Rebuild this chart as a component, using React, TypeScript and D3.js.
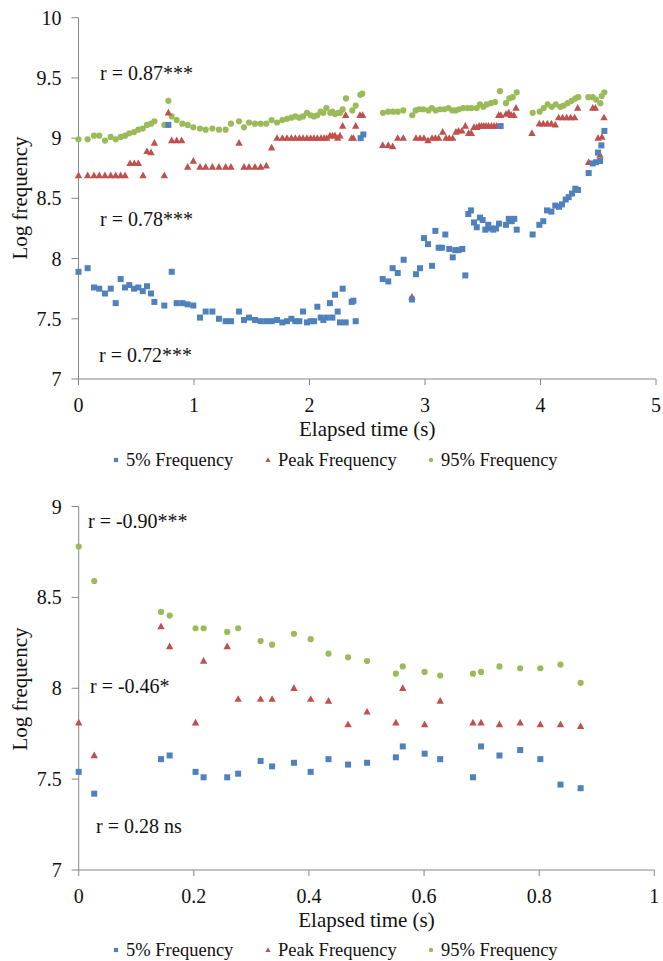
import * as d3 from "d3";

// top panel: [elapsed time (s), log frequency]
const p5Top: [number, number][] = [
  [0.0, 7.89], [0.079, 7.92], [0.134, 7.76], [0.18, 7.75], [0.229, 7.71], [0.279, 7.75], [0.322, 7.63],
  [0.365, 7.83], [0.403, 7.76], [0.44, 7.78], [0.481, 7.75], [0.518, 7.76], [0.556, 7.73], [0.593, 7.77],
  [0.628, 7.71], [0.657, 7.64], [0.743, 7.61], [0.778, 9.11], [0.807, 7.89], [0.85, 7.63], [0.899, 7.63],
  [0.945, 7.62], [0.994, 7.61], [1.052, 7.51], [1.101, 7.56], [1.159, 7.56], [1.216, 7.5], [1.274, 7.48],
  [1.32, 7.48], [1.39, 7.56], [1.433, 7.49], [1.476, 7.51], [1.528, 7.49], [1.577, 7.48], [1.626, 7.48],
  [1.672, 7.48], [1.719, 7.49], [1.765, 7.47], [1.805, 7.48], [1.843, 7.5], [1.877, 7.48], [1.912, 7.48],
  [1.944, 7.56], [1.978, 7.47], [2.01, 7.48], [2.039, 7.48], [2.068, 7.6], [2.097, 7.51], [2.12, 7.49],
  [2.149, 7.51], [2.177, 7.63], [2.198, 7.51], [2.221, 7.7], [2.244, 7.56], [2.264, 7.47], [2.287, 7.75],
  [2.313, 7.47], [2.365, 7.64], [2.38, 7.65], [2.4, 7.48], [2.443, 9.0], [2.466, 9.03], [2.634, 7.83],
  [2.682, 7.81], [2.72, 7.92], [2.764, 7.88], [2.815, 7.99], [2.887, 7.66], [2.922, 7.87], [2.957, 7.92],
  [2.991, 8.17], [3.026, 8.12], [3.061, 7.94], [3.09, 8.23], [3.118, 8.09], [3.147, 8.09], [3.176, 8.2],
  [3.21, 8.08], [3.24, 8.01], [3.262, 8.07], [3.291, 8.07], [3.323, 8.08], [3.349, 7.86], [3.375, 8.37],
  [3.398, 8.4], [3.424, 8.3], [3.448, 8.26], [3.476, 8.34], [3.499, 8.32], [3.522, 8.24], [3.548, 8.28],
  [3.571, 8.25], [3.591, 8.24], [3.615, 8.25], [3.641, 8.29], [3.655, 9.1], [3.701, 8.28], [3.725, 8.33],
  [3.751, 8.31], [3.773, 8.33], [3.794, 8.24], [3.932, 8.2], [3.99, 8.28], [4.024, 8.31], [4.056, 8.4],
  [4.094, 8.39], [4.128, 8.44], [4.16, 8.43], [4.186, 8.45], [4.218, 8.49], [4.244, 8.51], [4.273, 8.54],
  [4.301, 8.58], [4.325, 8.57], [4.417, 8.71], [4.452, 8.79], [4.481, 8.8], [4.498, 8.88], [4.515, 8.81],
  [4.527, 8.94], [4.553, 9.06],
];

const peakTop: [number, number][] = [
  [0.0, 8.69], [0.079, 8.69], [0.134, 8.69], [0.18, 8.69], [0.229, 8.69], [0.279, 8.69], [0.322, 8.69],
  [0.365, 8.69], [0.403, 8.69], [0.446, 8.79], [0.483, 8.79], [0.518, 8.79], [0.559, 8.69], [0.593, 8.89],
  [0.628, 8.88], [0.657, 8.96], [0.743, 8.69], [0.778, 9.21], [0.807, 8.98], [0.85, 8.98], [0.893, 8.98],
  [0.945, 8.76], [0.994, 8.81], [1.052, 8.76], [1.101, 8.76], [1.159, 8.76], [1.216, 8.76], [1.274, 8.76],
  [1.32, 8.76], [1.39, 8.96], [1.433, 8.76], [1.476, 8.76], [1.528, 8.76], [1.577, 8.76], [1.626, 8.77],
  [1.672, 8.92], [1.719, 9.0], [1.765, 9.0], [1.805, 9.0], [1.843, 9.0], [1.877, 9.0], [1.912, 9.0],
  [1.944, 9.0], [1.978, 9.0], [2.01, 9.0], [2.039, 9.0], [2.068, 9.0], [2.1, 9.0], [2.126, 9.0],
  [2.149, 9.0], [2.177, 9.02], [2.2, 9.02], [2.221, 9.02], [2.244, 9.0], [2.264, 9.02], [2.287, 9.1],
  [2.313, 9.19], [2.365, 9.0], [2.38, 9.0], [2.4, 9.1], [2.437, 9.19], [2.46, 9.19], [2.634, 8.94],
  [2.682, 8.94], [2.72, 8.93], [2.764, 9.0], [2.812, 9.0], [2.887, 7.68], [2.922, 9.0], [2.957, 9.0],
  [2.991, 9.0], [3.026, 8.98], [3.061, 9.0], [3.09, 9.0], [3.118, 9.0], [3.153, 9.05], [3.182, 9.0],
  [3.21, 9.0], [3.24, 9.0], [3.268, 9.05], [3.291, 9.06], [3.32, 9.06], [3.349, 9.1], [3.378, 9.04],
  [3.401, 9.04], [3.424, 9.09], [3.448, 9.09], [3.47, 9.1], [3.49, 9.1], [3.51, 9.1], [3.53, 9.1],
  [3.55, 9.1], [3.575, 9.1], [3.598, 9.1], [3.62, 9.1], [3.638, 9.19], [3.656, 9.19], [3.701, 9.2],
  [3.725, 9.21], [3.747, 9.19], [3.77, 9.19], [3.788, 9.25], [3.926, 9.04], [3.99, 9.12], [4.024, 9.12],
  [4.059, 9.12], [4.094, 9.12], [4.128, 9.11], [4.157, 9.17], [4.192, 9.17], [4.227, 9.17], [4.261, 9.17],
  [4.296, 9.17], [4.322, 9.25], [4.417, 8.8], [4.452, 9.25], [4.475, 9.25], [4.498, 9.0], [4.515, 8.86],
  [4.532, 9.01], [4.55, 9.17],
];

const p95Top: [number, number][] = [
  [0.0, 8.99], [0.079, 8.99], [0.134, 9.02], [0.18, 9.02], [0.229, 8.98], [0.279, 9.01], [0.322, 8.99],
  [0.365, 9.01], [0.403, 9.02], [0.44, 9.04], [0.481, 9.05], [0.518, 9.07], [0.556, 9.08], [0.593, 9.11],
  [0.628, 9.12], [0.657, 9.14], [0.743, 9.11], [0.778, 9.31], [0.807, 9.18], [0.85, 9.15], [0.899, 9.12],
  [0.945, 9.11], [0.994, 9.09], [1.052, 9.08], [1.101, 9.07], [1.159, 9.08], [1.216, 9.07], [1.274, 9.07],
  [1.32, 9.12], [1.39, 9.14], [1.433, 9.09], [1.476, 9.13], [1.528, 9.12], [1.577, 9.12], [1.626, 9.12],
  [1.672, 9.15], [1.719, 9.13], [1.765, 9.15], [1.805, 9.16], [1.843, 9.17], [1.877, 9.18], [1.912, 9.17],
  [1.944, 9.18], [1.978, 9.21], [2.01, 9.19], [2.039, 9.18], [2.068, 9.19], [2.097, 9.22], [2.12, 9.21],
  [2.146, 9.25], [2.18, 9.21], [2.198, 9.22], [2.221, 9.2], [2.25, 9.21], [2.267, 9.21], [2.287, 9.24],
  [2.316, 9.33], [2.371, 9.23], [2.4, 9.27], [2.44, 9.36], [2.457, 9.37], [2.636, 9.21], [2.682, 9.22],
  [2.723, 9.22], [2.764, 9.22], [2.812, 9.23], [2.89, 9.19], [2.919, 9.23], [2.948, 9.24], [2.985, 9.24],
  [3.029, 9.23], [3.058, 9.25], [3.093, 9.23], [3.13, 9.24], [3.167, 9.24], [3.202, 9.25], [3.237, 9.23],
  [3.266, 9.23], [3.294, 9.24], [3.332, 9.25], [3.37, 9.25], [3.404, 9.25], [3.448, 9.25], [3.476, 9.28],
  [3.505, 9.26], [3.534, 9.28], [3.571, 9.29], [3.606, 9.3], [3.649, 9.39], [3.701, 9.29], [3.73, 9.33],
  [3.759, 9.34], [3.794, 9.38], [3.932, 9.21], [3.993, 9.22], [4.028, 9.25], [4.062, 9.28], [4.097, 9.26],
  [4.132, 9.28], [4.172, 9.26], [4.2, 9.27], [4.236, 9.29], [4.27, 9.31], [4.301, 9.33], [4.327, 9.34],
  [4.414, 9.34], [4.452, 9.34], [4.481, 9.32], [4.518, 9.29], [4.53, 9.35], [4.553, 9.38],
];

// bottom panel: shared time samples
const timeBottom = [
  0, 0.027, 0.143, 0.158, 0.203, 0.217, 0.258, 0.277, 0.316, 0.336, 0.374, 0.403, 0.434,
  0.468, 0.501, 0.551, 0.563, 0.601, 0.628, 0.685, 0.699, 0.731, 0.767, 0.802, 0.837, 0.872,
];
const p5Bottom = [
  7.54, 7.42, 7.61, 7.63, 7.54, 7.51, 7.51, 7.53, 7.6, 7.57, 7.59, 7.54, 7.61,
  7.58, 7.59, 7.62, 7.68, 7.64, 7.61, 7.51, 7.68, 7.63, 7.66, 7.61, 7.47, 7.45,
];
const peakBottom = [
  7.81, 7.63, 8.34, 8.23, 7.81, 8.15, 8.23, 7.94, 7.94, 7.94, 8.0, 7.94, 7.93,
  7.8, 7.87, 7.81, 8.0, 7.8, 7.93, 7.81, 7.81, 7.8, 7.81, 7.8, 7.8, 7.79,
];
const p95Bottom = [
  8.78, 8.59, 8.42, 8.4, 8.33, 8.33, 8.31, 8.33, 8.26, 8.24, 8.3, 8.27, 8.19,
  8.17, 8.15, 8.08, 8.12, 8.09, 8.07, 8.08, 8.09, 8.12, 8.11, 8.11, 8.13, 8.03,
];

const seriesNames = ["5% Frequency", "Peak Frequency", "95% Frequency"];
const topXTicks = [0, 1, 2, 3, 4, 5];
const topYTicks = [7, 7.5, 8, 8.5, 9, 9.5, 10];
const bottomXTicks = [0, 0.2, 0.4, 0.6, 0.8, 1];
const bottomYTicks = [7, 7.5, 8, 8.5, 9];
const topNotes = ["r = 0.87***", "r = 0.78***", "r = 0.72***"];
const bottomNotes = ["r = -0.90***", "r = -0.46*", "r = 0.28 ns"];

const COLORS = ["#4F81BD", "#C0504D", "#9BBB59"];
const AXIS = "#868686";
const FONT = '"Liberation Serif", "DejaVu Serif", "Times New Roman", serif';

const Marker = ({ kind, x, y, s = 1 }) => {
  if (kind === 0)
    return <rect x={x - 3 * s} y={y - 3 * s} width={6 * s} height={6 * s} fill={COLORS[0]} />;
  if (kind === 1)
    return (
      <path
        d={`M${x},${y - 4 * s}L${x + 3.7 * s},${y + 2.7 * s}L${x - 3.7 * s},${y + 2.7 * s}Z`}
        fill={COLORS[1]}
      />
    );
  return <circle cx={x} cy={y} r={3.1 * s} fill={COLORS[2]} />;
};

const T = ({ children, ...rest }) => (
  <text style={{ fontFamily: FONT }} fill="#111" {...rest}>
    {children}
  </text>
);

const Panel = ({ series, xDomain, yDomain, xRange, yRange, xTicks, yTicks, notes, notePos, yTitleY, xLabelY, xTitleY, legendY }) => {
  const x = d3.scaleLinear().domain(xDomain).range(xRange);
  const y = d3.scaleLinear().domain(yDomain).range(yRange);
  const x0 = xRange[0];
  const y0 = yRange[0];

  return (
    <g>
      {/* axes */}
      <line x1={x0} x2={x0} y1={yRange[1]} y2={y0} stroke={AXIS} />
      <line x1={x0} x2={xRange[1]} y1={y0} y2={y0} stroke={AXIS} />
      {yTicks.map((t) => (
        <g key={"y" + t}>
          <line x1={x0 - 7} x2={x0} y1={y(t)} y2={y(t)} stroke={AXIS} />
          <T x={x0 - 17} y={y(t) + 7} textAnchor="end" fontSize={20}>{String(t)}</T>
        </g>
      ))}
      {xTicks.map((t) => (
        <g key={"x" + t}>
          <line x1={x(t)} x2={x(t)} y1={y0} y2={y0 + 6} stroke={AXIS} />
          <T x={x(t)} y={xLabelY} textAnchor="middle" fontSize={20}>{String(t)}</T>
        </g>
      ))}
      <T transform={`translate(27,${yTitleY}) rotate(-90)`} textAnchor="middle" fontSize={21}>
        Log frequency
      </T>
      <T x={(xRange[0] + xRange[1]) / 2} y={xTitleY} textAnchor="middle" fontSize={21}>
        Elapsed time (s)
      </T>

      {/* points: 95% first, then peak, then 5% on top */}
      {[2, 1, 0].map((k) =>
        series[k].map((d, i) => <Marker key={k + "-" + i} kind={k} x={x(d[0])} y={y(d[1])} />)
      )}

      {notes.map((n, i) => (
        <T key={n} x={notePos[i][0]} y={notePos[i][1]} fontSize={20}>{n}</T>
      ))}

      {/* legend */}
      {seriesNames.map((name, i) => {
        const lx = [116, 268, 431][i];
        return (
          <g key={name}>
            <Marker kind={i} x={lx} y={legendY - 6} s={0.7} />
            <T x={lx + 10} y={legendY} fontSize={18.5}>{name}</T>
          </g>
        );
      })}
    </g>
  );
};

export default function App() {
  const bottomSeries = [p5Bottom, peakBottom, p95Bottom].map((vals) =>
    vals.map((v, i) => [timeBottom[i], v] as [number, number])
  );

  return (
    <svg
      width={663}
      height={961}
      style={{ position: "absolute", left: 0, top: 0, background: "#fff" }}
    >
      <rect width={663} height={961} fill="#fff" />
      <Panel
        series={[p5Top, peakTop, p95Top]}
        xDomain={[0, 5]}
        yDomain={[7, 10]}
        xRange={[78.5, 656]}
        yRange={[379, 17.7]}
        xTicks={topXTicks}
        yTicks={topYTicks}
        notes={topNotes}
        notePos={[[100, 80], [100, 226], [99, 362]]}
        yTitleY={198}
        xLabelY={412}
        xTitleY={436}
        legendY={466}
      />
      <Panel
        series={bottomSeries}
        xDomain={[0, 1]}
        yDomain={[7, 9]}
        xRange={[78.7, 654.3]}
        yRange={[870, 506.5]}
        xTicks={bottomXTicks}
        yTicks={bottomYTicks}
        notes={bottomNotes}
        notePos={[[88, 528], [90, 693], [96, 833]]}
        yTitleY={689}
        xLabelY={903}
        xTitleY={927}
        legendY={956}
      />
    </svg>
  );
}
